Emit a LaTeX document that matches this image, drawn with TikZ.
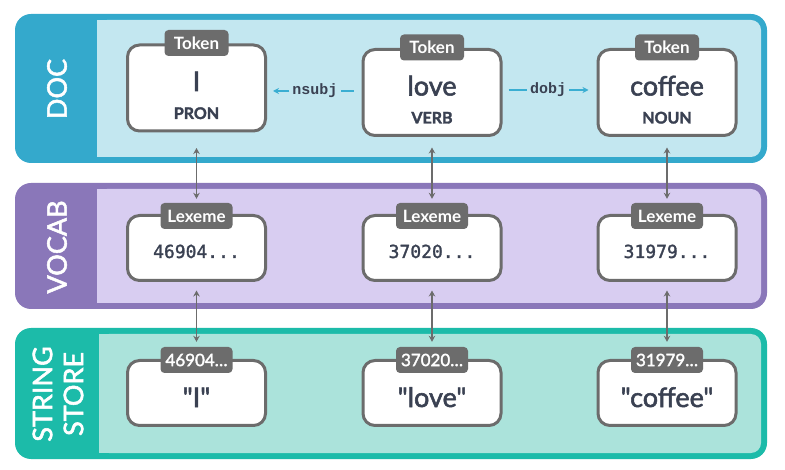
\documentclass[tikz,border=0pt]{standalone}
\usepackage{fontspec}
\setmainfont{Lato}[Ligatures=TeXOff]
\newfontfamily\wordfont{Lato}[Ligatures=TeXOff, FakeBold=2]
\newfontfamily\posfont{Lato}[Ligatures=TeXOff, BoldFeatures={FakeBold=2}]
\newfontfamily\numfont{DejaVu Sans Mono}[FakeBold=1.5]
\newfontfamily\depfont{Liberation Mono}
\usetikzlibrary{arrows.meta,calc}
\definecolor{docdark}{HTML}{34A9CC}
\definecolor{doclight}{HTML}{C3E7F0}
\definecolor{vocdark}{HTML}{8A77B9}
\definecolor{voclight}{HTML}{D8CDF1}
\definecolor{strdark}{HTML}{1CBBA9}
\definecolor{strlight}{HTML}{ABE3DB}
\definecolor{boxgray}{HTML}{6C6C6C}
\definecolor{textdark}{HTML}{3A4152}
\definecolor{depblue}{HTML}{3AAED2}
\tikzset{
  strip/.style={text=white, font=\wordfont\fontsize{27}{31}\selectfont, rotate=90, align=center, inner sep=0pt},
  tokbox/.style={draw=boxgray, line width=3pt, fill=white, rounded corners=12pt, minimum width=138pt, minimum height=86pt, inner sep=0pt},
  lexbox/.style={draw=boxgray, line width=3pt, fill=white, rounded corners=12pt, minimum width=138pt, minimum height=65pt, inner sep=0pt},
  tabbox/.style={fill=boxgray, rounded corners=4pt, text=white, font=\bfseries\fontsize{17}{17}\selectfont, minimum height=26pt, minimum width=64pt, inner xsep=4pt, inner ysep=0pt},
  wordtxt/.style={text=textdark, font=\wordfont\fontsize{27}{27}\selectfont, anchor=base, inner sep=0pt},
  postxt/.style={text=textdark, font=\posfont\bfseries\fontsize{16}{16}\selectfont, anchor=base, inner sep=0pt},
  numtxt/.style={text=textdark, font=\numfont\fontsize{18}{18}\selectfont, anchor=base, inner sep=0pt},
  deptxt/.style={text=textdark, font=\depfont\bfseries\fontsize{15}{15}\selectfont, inner xsep=3pt, inner ysep=0pt},
  depline/.style={draw=depblue, line width=1.8pt},
  varrow/.style={draw=boxgray, line width=1.9pt, {Stealth[length=6pt,width=6.5pt]}-{Stealth[length=6pt,width=6.5pt]}}
}
\begin{document}
\begin{tikzpicture}[x=1pt,y=-1pt]
\useasboundingbox (0,0) rectangle (785,470);
% panels
\fill[docdark, rounded corners=16pt] (15,14) rectangle (767,163);
\fill[doclight, rounded corners=10pt] (97,20) rectangle (761,157);
\fill[doclight] (97,20) rectangle (130,157);
\node[strip] (ldoc) at (57,89) {DOC};

\fill[vocdark, rounded corners=16pt] (15,183) rectangle (767,309);
\fill[voclight, rounded corners=10pt] (97,189) rectangle (761,303);
\fill[voclight] (97,189) rectangle (130,303);
\node[strip] (lvoc) at (57,247) {VOCAB};

\fill[strdark, rounded corners=16pt] (15,328) rectangle (767,459);
\fill[strlight, rounded corners=10pt] (99,334) rectangle (761,453);
\fill[strlight] (99,334) rectangle (130,453);
\node[strip] (lstr) at (58,394) {STRING\\STORE};

% token boxes
\node[tokbox] (tI) at (196.5,88) {};
\node[tokbox] (tLove) at (432,92.5) {};
\node[tokbox] (tCof) at (667,92.5) {};
\node[tabbox] (tItab) at ($(tI.north)+(0,-0.5)$) {Token};
\node[tabbox] (tLovetab) at ($(tLove.north)+(0,-0.5)$) {Token};
\node[tabbox] (tCoftab) at ($(tCof.north)+(0,-0.5)$) {Token};
\node[wordtxt] (wI) at ($(tI.center)+(0,3)$) {I};
\node[wordtxt] (wLove) at ($(tLove.center)+(0,3)$) {love};
\node[wordtxt] (wCof) at ($(tCof.center)+(0,3)$) {coffee};
\node[postxt] (pI) at ($(tI.center)+(0,31)$) {PRON};
\node[postxt] (pLove) at ($(tLove.center)+(0,31)$) {VERB};
\node[postxt] (pCof) at ($(tCof.center)+(0,31)$) {NOUN};

% dependency arrows
\node[deptxt] (nsubj) at (315,91) {nsubj};
\node[deptxt] (dobj) at (548,90) {dobj};
\draw[depline] ($(tLove.west |- nsubj)+(-8,0)$) -- (nsubj.east);
\draw[depline,-{Stealth[length=6pt,width=6pt]}] (nsubj.west) -- ($(tI.east |- nsubj)+(6,0)$);
\draw[depline] ($(tLove.east |- dobj)+(6,0)$) -- (dobj.west);
\draw[depline,-{Stealth[length=6pt,width=6pt]}] (dobj.east) -- ($(tCof.west |- dobj)+(-8,0)$);

% lexeme boxes
\node[lexbox] (lI) at (196.5,248) {};
\node[lexbox] (lLove) at (432,248) {};
\node[lexbox] (lCof) at (667,248) {};
\node[tabbox, minimum width=72pt] (lItab) at ($(lI.north)+(0,2)$) {Lexeme};
\node[tabbox, minimum width=72pt] (lLovetab) at ($(lLove.north)+(0,2)$) {Lexeme};
\node[tabbox, minimum width=72pt] (lCoftab) at ($(lCof.north)+(0,2)$) {Lexeme};
\node[numtxt] (nI) at ($(lI.center)+(0,10)$) {46904...};
\node[numtxt] (nLove) at ($(lLove.center)+(0,10)$) {37020...};
\node[numtxt] (nCof) at ($(lCof.center)+(0,10)$) {31979...};

% string store boxes
\node[lexbox] (sI) at (196.5,393) {};
\node[lexbox] (sLove) at (432,393) {};
\node[lexbox] (sCof) at (667,393) {};
\node[tabbox, minimum width=72pt, font=\wordfont\fontsize{17}{17}\selectfont] (sItab) at ($(sI.north)+(0,1)$) {46904…};
\node[tabbox, minimum width=72pt, font=\wordfont\fontsize{17}{17}\selectfont] (sLovetab) at ($(sLove.north)+(0,1)$) {37020…};
\node[tabbox, minimum width=72pt, font=\wordfont\fontsize{17}{17}\selectfont] (sCoftab) at ($(sCof.north)+(0,1)$) {31979…};
\node[wordtxt] (qI) at ($(sI.center)+(0,14)$) {"I"};
\node[wordtxt] (qLove) at ($(sLove.center)+(0,14)$) {"love"};
\node[wordtxt] (qCof) at ($(sCof.center)+(0,14)$) {"coffee"};

% vertical arrows
\draw[varrow, shorten <=15.5pt, shorten >=4pt] (tI.south) -- (lItab.north);
\draw[varrow, shorten <=10.5pt, shorten >=4pt] (tLove.south) -- (lLovetab.north);
\draw[varrow, shorten <=10.5pt, shorten >=4pt] (tCof.south) -- (lCoftab.north);
\draw[varrow, shorten <=8.5pt, shorten >=5pt] (lI.south) -- (sItab.north);
\draw[varrow, shorten <=8.5pt, shorten >=5pt] (lLove.south) -- (sLovetab.north);
\draw[varrow, shorten <=8.5pt, shorten >=5pt] (lCof.south) -- (sCoftab.north);
\end{tikzpicture}
\end{document}
